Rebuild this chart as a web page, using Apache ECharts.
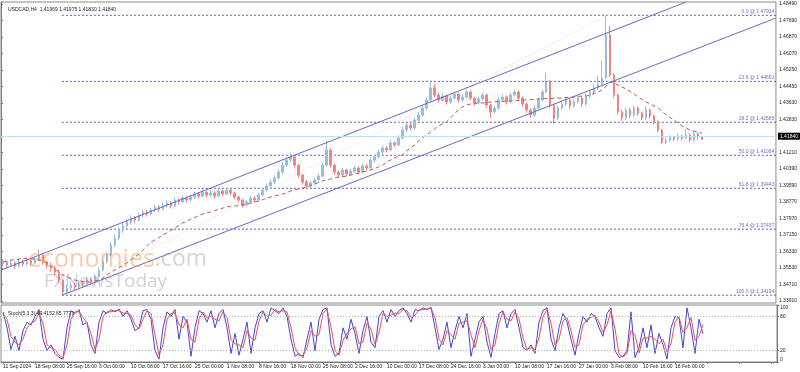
<!DOCTYPE html>
<html><head><meta charset="utf-8">
<script src="https://cdn.jsdelivr.net/npm/echarts@6/dist/echarts.min.js"></script>
<style>html,body{margin:0;padding:0;background:#fff}#c{width:800px;height:372px}</style>
</head><body><div id="c"></div>
<script>
// x-axis tick labels (every 8th slot)
const tickLabels = ["11 Sep 2024","18 Sep 08:00","25 Sep 16:00","3 Oct 00:00","10 Oct 08:00","17 Oct 16:00","25 Oct 00:00","1 Nov 08:00","8 Nov 16:00","18 Nov 00:00","25 Nov 08:00","2 Dec 16:00","10 Dec 00:00","17 Dec 08:00","24 Dec 16:00","3 Jan 00:00","10 Jan 08:00","17 Jan 16:00","27 Jan 00:00","3 Feb 08:00","10 Feb 16:00","18 Feb 00:00"];
const priceTicks = [1.48490,1.47690,1.46870,1.46070,1.45250,1.44450,1.43630,1.42830,1.42010,1.41210,1.40390,1.39590,1.38770,1.37970,1.37150,1.36330,1.35530,1.34710,1.33910];
const stochTicks = [0,20,80,100];
const slotCount = 194;
// candles: [open, close, low, high]
const candles = [
[1.3575,1.3582,1.3560,1.3598],[1.3582,1.3567,1.3555,1.3590],[1.3567,1.3577,1.3558,1.3592],[1.3577,1.3562,1.3548,1.3585],[1.3562,1.3582,1.3555,1.3600],
[1.3582,1.3572,1.3560,1.3594],[1.3572,1.3587,1.3565,1.3601],[1.3587,1.3577,1.3562,1.3598],[1.3577,1.3592,1.3570,1.3608],[1.3592,1.3617,1.3585,1.3645],
[1.3617,1.3582,1.3570,1.3625],[1.3582,1.3567,1.3550,1.3590],[1.3567,1.3553,1.3535,1.3580],[1.3553,1.3533,1.3515,1.3565],[1.3533,1.3494,1.3480,1.3545],
[1.3494,1.3435,1.3419,1.3500],[1.3435,1.3455,1.3425,1.3470],[1.3455,1.3469,1.3440,1.3485],[1.3469,1.3460,1.3445,1.3480],[1.3460,1.3479,1.3452,1.3495],
[1.3479,1.3474,1.3458,1.3492],[1.3474,1.3494,1.3465,1.3508],[1.3494,1.3489,1.3472,1.3505],[1.3489,1.3513,1.3480,1.3525],[1.3513,1.3543,1.3505,1.3555],
[1.3543,1.3582,1.3535,1.3595],[1.3582,1.3617,1.3575,1.3630],[1.3617,1.3666,1.3610,1.3680],[1.3666,1.3700,1.3655,1.3715],[1.3700,1.3739,1.3690,1.3752],
[1.3739,1.3759,1.3725,1.3775],[1.3759,1.3779,1.3745,1.3792],[1.3779,1.3798,1.3765,1.3812],[1.3798,1.3788,1.3772,1.3808],[1.3788,1.3813,1.3780,1.3825],
[1.3813,1.3828,1.3800,1.3840],[1.3828,1.3818,1.3805,1.3838],[1.3818,1.3838,1.3810,1.3850],[1.3838,1.3852,1.3828,1.3865],[1.3852,1.3842,1.3830,1.3862],
[1.3842,1.3862,1.3835,1.3875],[1.3862,1.3872,1.3850,1.3885],[1.3872,1.3857,1.3845,1.3880],[1.3857,1.3887,1.3850,1.3898],[1.3887,1.3877,1.3865,1.3895],
[1.3877,1.3896,1.3870,1.3908],[1.3896,1.3887,1.3875,1.3905],[1.3887,1.3901,1.3880,1.3912],[1.3901,1.3916,1.3892,1.3928],[1.3916,1.3906,1.3895,1.3925],
[1.3906,1.3926,1.3900,1.3938],[1.3926,1.3911,1.3900,1.3932],[1.3911,1.3921,1.3902,1.3935],[1.3921,1.3906,1.3895,1.3930],[1.3906,1.3931,1.3900,1.3942],
[1.3931,1.3916,1.3905,1.3938],[1.3916,1.3936,1.3910,1.3948],[1.3936,1.3921,1.3910,1.3942],[1.3921,1.3901,1.3890,1.3928],[1.3901,1.3887,1.3875,1.3908],
[1.3887,1.3862,1.3850,1.3892],[1.3862,1.3877,1.3855,1.3888],[1.3877,1.3896,1.3870,1.3908],[1.3896,1.3887,1.3875,1.3905],[1.3887,1.3911,1.3880,1.3922],
[1.3911,1.3936,1.3905,1.3948],[1.3936,1.3955,1.3928,1.3968],[1.3955,1.3975,1.3945,1.3988],[1.3975,1.3995,1.3965,1.4008],[1.3995,1.4024,1.3988,1.4038],
[1.4024,1.4058,1.4015,1.4072],[1.4058,1.4083,1.4050,1.4095],[1.4083,1.4098,1.4070,1.4120],[1.4098,1.4058,1.4045,1.4105],[1.4058,1.4009,1.3995,1.4065],
[1.4009,1.3975,1.3962,1.4015],[1.3975,1.3955,1.3942,1.3985],[1.3955,1.3970,1.3948,1.3982],[1.3970,1.3985,1.3960,1.3995],[1.3985,1.4004,1.3978,1.4015],
[1.4004,1.4058,1.3998,1.4070],[1.4058,1.4132,1.4050,1.4178],[1.4132,1.4058,1.4045,1.4140],[1.4058,1.4024,1.4010,1.4065],[1.4024,1.4009,1.3995,1.4032],
[1.4009,1.4034,1.4000,1.4045],[1.4034,1.4014,1.4002,1.4040],[1.4014,1.4029,1.4005,1.4040],[1.4029,1.4044,1.4020,1.4055],[1.4044,1.4024,1.4012,1.4050],
[1.4024,1.4053,1.4018,1.4065],[1.4053,1.4044,1.4032,1.4062],[1.4044,1.4083,1.4038,1.4095],[1.4083,1.4098,1.4072,1.4110],[1.4098,1.4122,1.4090,1.4135],
[1.4122,1.4142,1.4112,1.4155],[1.4142,1.4132,1.4120,1.4152],[1.4132,1.4167,1.4125,1.4180],[1.4167,1.4157,1.4145,1.4175],[1.4157,1.4191,1.4150,1.4205],
[1.4191,1.4230,1.4185,1.4245],[1.4230,1.4255,1.4220,1.4268],[1.4255,1.4240,1.4228,1.4265],[1.4240,1.4279,1.4232,1.4292],[1.4279,1.4304,1.4270,1.4318],
[1.4304,1.4338,1.4295,1.4352],[1.4338,1.4378,1.4330,1.4392],[1.4378,1.4437,1.4370,1.4468],[1.4437,1.4402,1.4390,1.4455],[1.4402,1.4378,1.4365,1.4412],
[1.4378,1.4397,1.4370,1.4410],[1.4397,1.4368,1.4355,1.4405],[1.4368,1.4387,1.4360,1.4400],[1.4387,1.4407,1.4380,1.4420],[1.4407,1.4378,1.4365,1.4415],
[1.4378,1.4392,1.4370,1.4405],[1.4392,1.4417,1.4385,1.4430],[1.4417,1.4387,1.4375,1.4425],[1.4387,1.4363,1.4350,1.4395],[1.4363,1.4383,1.4355,1.4395],
[1.4383,1.4402,1.4375,1.4415],[1.4402,1.4353,1.4340,1.4410],[1.4353,1.4319,1.4290,1.4360],[1.4319,1.4338,1.4310,1.4350],[1.4338,1.4378,1.4330,1.4390],
[1.4378,1.4392,1.4368,1.4405],[1.4392,1.4368,1.4355,1.4400],[1.4368,1.4402,1.4360,1.4415],[1.4402,1.4417,1.4395,1.4430],[1.4417,1.4387,1.4375,1.4425],
[1.4387,1.4358,1.4345,1.4395],[1.4358,1.4329,1.4315,1.4365],[1.4329,1.4304,1.4290,1.4335],[1.4304,1.4338,1.4295,1.4350],[1.4338,1.4378,1.4330,1.4390],
[1.4378,1.4417,1.4370,1.4430],[1.4417,1.4466,1.4410,1.4510],[1.4466,1.4353,1.4340,1.4475],[1.4353,1.4289,1.4263,1.4360],[1.4289,1.4338,1.4280,1.4350],
[1.4338,1.4358,1.4328,1.4370],[1.4358,1.4378,1.4348,1.4390],[1.4378,1.4348,1.4335,1.4385],[1.4348,1.4368,1.4340,1.4380],[1.4368,1.4387,1.4360,1.4400],
[1.4387,1.4358,1.4345,1.4395],[1.4358,1.4397,1.4350,1.4410],[1.4397,1.4417,1.4388,1.4430],[1.4417,1.4437,1.4405,1.4455],[1.4437,1.4456,1.4425,1.4495],
[1.4456,1.4486,1.4445,1.4570],[1.4486,1.4697,1.4480,1.47934],[1.4697,1.4500,1.4490,1.4740],[1.4500,1.4402,1.4390,1.4510],[1.4402,1.4319,1.4305,1.4410],
[1.4319,1.4289,1.4275,1.4330],[1.4289,1.4329,1.4280,1.4340],[1.4329,1.4304,1.4290,1.4338],[1.4304,1.4338,1.4295,1.4350],[1.4338,1.4314,1.4300,1.4345],
[1.4314,1.4289,1.4278,1.4320],[1.4289,1.4329,1.4280,1.4345],[1.4329,1.4299,1.4285,1.4335],[1.4299,1.4270,1.4258,1.4305],[1.4270,1.4230,1.4218,1.4278],
[1.4230,1.4171,1.4160,1.4238],[1.4171,1.4181,1.4162,1.4192],[1.4181,1.4196,1.4172,1.4205],[1.4196,1.4186,1.4175,1.4202],[1.4186,1.4201,1.4178,1.4212],
[1.4201,1.4191,1.4180,1.4208],[1.4191,1.4206,1.4185,1.4235],[1.4206,1.4181,1.4170,1.4215],[1.4181,1.4211,1.4175,1.4222],[1.4211,1.4197,1.4183,1.4220],
[1.41969,1.41840,1.41830,1.41975]
];
const maValues = [1.3582,1.3587,1.3592,1.3594,1.3597,1.3601,1.3601,1.3599,1.3597,1.3592,
1.3587,1.3577,1.3562,1.3548,1.3533,1.3518,1.3508,1.3501,1.3494,1.3489,
1.3486,1.3484,1.3484,1.3489,1.3494,1.3503,1.3518,1.3533,1.3543,1.3553,
1.3565,1.3577,1.3592,1.3607,1.3621,1.3641,1.3661,1.3680,1.3690,1.3702,
1.3715,1.3725,1.3737,1.3749,1.3761,1.3774,1.3783,1.3793,1.3801,1.3810,
1.3818,1.3823,1.3828,1.3835,1.3840,1.3847,1.3852,1.3855,1.3857,1.3860,
1.3862,1.3865,1.3872,1.3877,1.3882,1.3889,1.3896,1.3901,1.3906,1.3911,
1.3916,1.3923,1.3931,1.3936,1.3941,1.3946,1.3950,1.3958,1.3965,1.3973,
1.3980,1.3985,1.3990,1.3995,1.4000,1.4002,1.4004,1.4009,1.4014,1.4019,
1.4024,1.4029,1.4034,1.4041,1.4049,1.4058,1.4073,1.4083,1.4093,1.4103,
1.4108,1.4127,1.4142,1.4157,1.4176,1.4191,1.4206,1.4220,1.4235,1.4250,
1.4260,1.4270,1.4289,1.4309,1.4329,1.4343,1.4353,1.4358,1.4360,1.4363,
1.4363,1.4365,1.4368,1.4368,1.4370,1.4370,1.4373,1.4373,1.4375,1.4375,
1.4378,1.4378,1.4380,1.4380,1.4383,1.4383,1.4385,1.4385,1.4387,1.4387,
1.4387,1.4390,1.4390,1.4392,1.4395,1.4397,1.4397,1.4402,1.4410,1.4417,
1.4427,1.4446,1.4466,1.4461,1.4451,1.4441,1.4432,1.4419,1.4407,1.4392,
1.4380,1.4368,1.4358,1.4348,1.4338,1.4324,1.4304,1.4292,1.4279,1.4265,
1.4250,1.4240,1.4230,1.4225,1.4220,1.4215];
const stochMain = [88,60,22,45,20,55,70,65,80,92,40,20,30,15,8,5,60,90,85,92,
65,70,30,15,70,90,85,92,88,93,80,90,75,55,60,90,92,75,20,5,
60,88,80,92,40,80,70,10,60,90,85,70,90,60,85,92,60,15,50,12,
40,70,15,60,85,90,70,95,90,85,95,80,40,10,15,8,40,70,20,75,
92,95,30,10,15,60,40,75,50,15,55,80,35,25,80,90,70,92,80,90,
95,85,70,92,90,95,92,96,60,22,40,70,25,55,80,60,85,10,40,70,
80,35,8,50,85,90,60,85,92,60,25,20,30,15,70,90,95,40,20,60,
85,70,40,12,50,80,70,85,80,60,45,85,95,20,8,10,20,88,8,25,
60,25,65,15,50,30,5,60,80,78,25,95,60,15,75,49.4152];
const stochSignal = [85,75,45,35,30,40,60,68,72,85,68,30,25,22,12,7,30,75,88,88,
78,68,50,22,40,80,88,88,90,90,86,85,82,65,58,75,90,85,48,12,
30,75,85,86,65,60,75,40,35,75,88,78,80,75,72,88,78,38,32,30,
25,55,42,38,72,88,80,82,92,88,90,88,60,25,12,11,25,55,45,48,
85,93,62,20,12,38,50,58,62,32,35,68,58,30,52,85,80,82,86,85,
92,90,78,82,91,92,93,94,78,40,30,55,48,40,68,70,72,48,25,55,
75,58,22,30,68,88,75,72,88,76,42,22,25,22,42,80,92,68,30,40,
72,78,55,26,30,65,75,78,82,70,52,65,90,58,14,9,15,55,48,16,
42,42,45,40,32,40,18,32,70,79,52,60,78,38,45,65.7771];
const fibLevels = ["0.0","23.6","38.2","50.0","61.8","76.4","100.0"];
const fibPrices = [1.47934,1.44691,1.42685,1.41064,1.39443,1.37437,1.34194];
const fibStartSlot = 15.25;
const channelUpper = [[0,1.35429],[171.5,1.48588]];
const channelLower = [[15.25,1.34194],[194,1.47802]];
const fibDiagonal = [[15.25,1.34194],[151.75,1.47934]];
const lastPrice = 1.41840;
const headerText = "USDCAD,H4  1.41969 1.41975 1.41830 1.41840";
const stochText = "Stoch(5,3,3) 49.4152 65.7771";

const cats = Array.from({length: slotCount}, (_, i) => String(i));
const FONT = 'Liberation Sans, Arial, sans-serif';
const chart = echarts.init(document.getElementById('c'), null, {renderer: 'canvas'});

const series = [];
fibPrices.forEach((p, k) => {
  series.push({type: 'line', xAxisIndex: 2, yAxisIndex: 0, data: [[fibStartSlot, p], [slotCount, p]],
    symbol: 'none', silent: true, z: 1,
    lineStyle: {color: '#5c5cc8', width: 1, type: [2, 2]}});
  series.push({type: 'scatter', xAxisIndex: 2, yAxisIndex: 0, data: [[slotCount, p]], symbolSize: 1,
    itemStyle: {color: 'rgba(0,0,0,0)'}, silent: true, z: 3,
    label: {show: true, position: 'left', distance: 1, offset: [0, -4], fontSize: 5, fontFamily: FONT,
      color: '#4a4aa8', formatter: fibLevels[k] + ' @ ' + p.toFixed(5)}});
});
series.push({type: 'line', xAxisIndex: 2, yAxisIndex: 0, data: fibDiagonal, symbol: 'none', silent: true, z: 1,
  lineStyle: {color: '#e0d4d4', width: 1, type: [1, 2]}});
series.push({type: 'candlestick', xAxisIndex: 0, yAxisIndex: 0, data: candles, barWidth: 2, z: 2,
  itemStyle: {color: '#98bde0', color0: '#f08484', borderColor: '#98bde0', borderColor0: '#f08484', borderWidth: 1},
  markLine: {silent: true, symbol: 'none', animation: false,
    lineStyle: {color: '#b8e4f0', width: 1, type: 'solid'},
    label: {show: true, position: 'end', distance: 2, formatter: lastPrice.toFixed(5), backgroundColor: '#000', color: '#fff',
      fontSize: 5, fontFamily: FONT, padding: [1, 2]},
    data: [{yAxis: lastPrice}]}});
series.push({type: 'line', xAxisIndex: 0, yAxisIndex: 0, data: maValues, symbol: 'none', z: 3,
  lineStyle: {color: '#b85a50', width: 1, type: [4, 3]}});
series.push({type: 'line', xAxisIndex: 2, yAxisIndex: 0, data: channelUpper, symbol: 'none', z: 4, clip: true,
  lineStyle: {color: '#6868c8', width: 1}});
series.push({type: 'line', xAxisIndex: 2, yAxisIndex: 0, data: channelLower, symbol: 'none', z: 4, clip: true,
  lineStyle: {color: '#6868c8', width: 1}});
series.push({type: 'line', xAxisIndex: 1, yAxisIndex: 1, data: stochMain, symbol: 'none', z: 3,
  lineStyle: {color: '#4646c8', width: 1},
  markLine: {silent: true, symbol: 'none', label: {show: false},
    lineStyle: {color: '#b0b0b0', width: 1, type: [1, 2]}, data: [{yAxis: 20}, {yAxis: 80}]}});
series.push({type: 'line', xAxisIndex: 1, yAxisIndex: 1, data: stochSignal, symbol: 'none', z: 4,
  lineStyle: {color: '#e8505c', width: 1}});

chart.setOption({
  animation: false,
  backgroundColor: '#fff',
  title: [
    {text: headerText, left: 3, top: 2, textStyle: {fontSize: 5, fontWeight: 'normal', color: '#222', fontFamily: FONT}},
    {text: stochText, left: 3, top: 306, textStyle: {fontSize: 5, fontWeight: 'normal', color: '#222', fontFamily: FONT}}
  ],
  grid: [
    {left: 1, top: 2, width: 776, height: 301, show: true, borderColor: '#8a8a8a', borderWidth: 1, backgroundColor: '#fff'},
    {left: 1, top: 305, width: 776, height: 57, show: true, borderColor: '#8a8a8a', borderWidth: 1, backgroundColor: '#fff'}
  ],
  xAxis: [
    {type: 'category', gridIndex: 0, data: cats, boundaryGap: true, axisLine: {show: false}, axisTick: {show: false}, axisLabel: {show: false}, splitLine: {show: false}},
    {type: 'category', gridIndex: 1, data: cats, boundaryGap: true,
      axisLine: {show: true, lineStyle: {color: '#777'}},
      axisTick: {show: true, interval: 7, length: 2, alignWithLabel: true, lineStyle: {color: '#777'}},
      axisLabel: {show: true, interval: 7, align: 'left', margin: 2, fontSize: 5, fontFamily: FONT, color: '#222',
        formatter: (v, idx) => (idx % 8 === 0 && tickLabels[idx / 8]) ? tickLabels[idx / 8] : ''},
      splitLine: {show: false}},
    {type: 'value', gridIndex: 0, min: 0, max: slotCount, show: false}
  ],
  yAxis: [
    {type: 'value', gridIndex: 0, position: 'right', min: 1.338115, max: 1.485882, scale: true,
      axisLine: {show: true, lineStyle: {color: '#777'}},
      axisTick: {show: true, length: 2, customValues: priceTicks, lineStyle: {color: '#777'}},
      axisLabel: {show: true, customValues: priceTicks, margin: 3, fontSize: 5, fontFamily: FONT, color: '#222', formatter: v => v.toFixed(5)},
      splitLine: {show: false}},
    {type: 'value', gridIndex: 1, position: 'right', min: 0, max: 100,
      axisLine: {show: true, lineStyle: {color: '#777'}},
      axisTick: {show: true, length: 2, customValues: stochTicks, lineStyle: {color: '#777'}},
      axisLabel: {show: true, customValues: stochTicks, margin: 3, fontSize: 5, fontFamily: FONT, color: '#222',
        verticalAlignMinLabel: 'bottom', verticalAlignMaxLabel: 'top'},
      splitLine: {show: false}}
  ],
  graphic: [
    {type: 'text', left: 28, top: 247, z: 100, silent: true,
      style: {text: '{a|economies}{b|.com}', rich: {
        a: {fontSize: 25, fontFamily: 'Open Sans, Arial, sans-serif', fill: 'rgba(246,140,70,0.45)'},
        b: {fontSize: 23, fontFamily: 'Open Sans, Arial, sans-serif', fill: 'rgba(150,150,150,0.4)'}}}},
    {type: 'text', left: 44, top: 272, z: 100, silent: true,
      style: {text: 'FXNewsToday', fontSize: 19, fontFamily: 'Open Sans, Arial, sans-serif', fill: 'rgba(140,140,140,0.4)'}}
  ],
  series: series
});
</script>
</body></html>
